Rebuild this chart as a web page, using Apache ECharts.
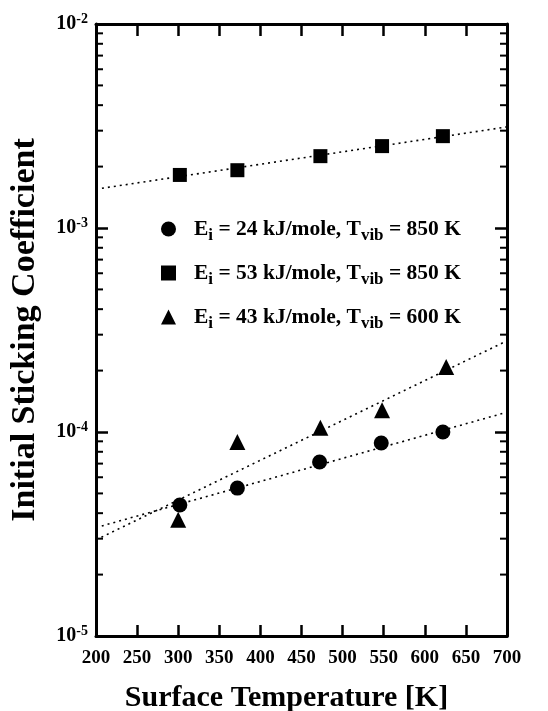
<!DOCTYPE html>
<html>
<head>
<meta charset="utf-8">
<script src="https://cdn.jsdelivr.net/npm/echarts@6/dist/echarts.min.js"></script>
<style>html,body{margin:0;padding:0;background:#fff;}#c{width:548px;height:711px;}</style>
</head>
<body>
<div id="c"></div>
<script>
// ---- data ----
var tempCircle = [302, 372, 472, 547, 622];
var sCircle = [4.39e-5, 5.31e-5, 7.13e-5, 8.83e-5, 1.0e-4];
var tempSquare = [302, 372, 473, 548, 622];
var sSquare = [1.82e-3, 1.92e-3, 2.25e-3, 2.52e-3, 2.82e-3];
var tempTriangle = [300, 372, 473, 548, 626];
var sTriangle = [3.71e-5, 8.93e-5, 1.05e-4, 1.28e-4, 2.08e-4];
// fitted (dotted) lines: endpoints at 200 K and 700 K
var fitT = [200, 700];
var fitCircle = [3.4e-5, 1.25e-4];
var fitSquare = [1.55e-3, 3.13e-3];
var fitTriangle = [2.96e-5, 2.8e-4];
// axis ticks
var xTicks = [200, 250, 300, 350, 400, 450, 500, 550, 600, 650, 700];
var yDecades = [1e-5, 1e-4, 1e-3, 1e-2];
var minorMult = [2, 3, 4, 5, 6, 7, 8, 9];
var legendNames = [
  'Ei = 24 kJ/mole, Tvib = 850 K',
  'Ei = 53 kJ/mole, Tvib = 850 K',
  'Ei = 43 kJ/mole, Tvib = 600 K'
];
var legendParts = [
  ['24', '850'],
  ['53', '850'],
  ['43', '600']
];

function pairs(xs, ys) { return xs.map(function (x, i) { return [x, ys[i]]; }); }
var minorVals = [];
for (var d = 0; d < yDecades.length - 1; d++) {
  for (var m = 0; m < minorMult.length; m++) minorVals.push([200, yDecades[d] * minorMult[m]]);
}

var FONT = 'Liberation Serif';
var chart = echarts.init(document.getElementById('c'), null, { renderer: 'canvas' });

var axisLine = { show: true, lineStyle: { color: '#000', width: 3 } };
var tickStyle = { color: '#000', width: 2.5 };

var option = {
  backgroundColor: '#fff',
  animation: false,
  grid: { left: 96, right: 41, top: 24, bottom: 75, containLabel: false, outerBoundsMode: 'none' },
  xAxis: [{
    type: 'value', min: xTicks[0], max: xTicks[xTicks.length - 1], interval: 50,
    position: 'bottom',
    axisLine: axisLine,
    axisTick: { show: true, inside: true, length: 11, lineStyle: tickStyle },
    splitLine: { show: false },
    axisLabel: { color: '#000', fontFamily: FONT, fontWeight: 'bold', fontSize: 19, margin: 13 },
    name: 'Surface Temperature [K]', nameLocation: 'middle', nameGap: 47,
    nameTextStyle: { color: '#000', fontFamily: FONT, fontWeight: 'bold', fontSize: 30, padding: [0, 30, 0, 0] }
  }, {
    type: 'value', min: xTicks[0], max: xTicks[xTicks.length - 1], interval: 50,
    position: 'top',
    axisLine: axisLine,
    axisTick: { show: true, inside: true, length: 12, lineStyle: tickStyle },
    splitLine: { show: false },
    axisLabel: { show: false }
  }],
  yAxis: [{
    type: 'log', logBase: 10, min: yDecades[0], max: yDecades[yDecades.length - 1], splitNumber: 3,
    position: 'left',
    axisLine: axisLine,
    axisTick: { show: true, inside: true, length: 12, lineStyle: tickStyle },
    splitLine: { show: false },
    minorTick: { show: false },
    axisLabel: {
      margin: 8,
      formatter: function (v) {
        var e = Math.round(Math.log(v) / Math.LN10);
        return '{n|10}{e|' + e + '}';
      },
      rich: {
        n: { color: '#000', fontFamily: FONT, fontWeight: 'bold', fontSize: 20 },
        e: { color: '#000', fontFamily: FONT, fontWeight: 'bold', fontSize: 14, padding: [0, 0, 10, 0] }
      }
    },
    name: 'Initial Sticking Coefficient', nameLocation: 'middle', nameGap: 54,
    nameTextStyle: { color: '#000', fontFamily: FONT, fontWeight: 'bold', fontSize: 34 }
  }, {
    type: 'log', logBase: 10, min: yDecades[0], max: yDecades[yDecades.length - 1], splitNumber: 3,
    position: 'right',
    axisLine: axisLine,
    axisTick: { show: true, inside: true, length: 12, lineStyle: tickStyle },
    splitLine: { show: false },
    axisLabel: { show: false }
  }],
  legend: {
    orient: 'vertical', left: 156, top: 209, itemWidth: 15, itemHeight: 15, itemGap: 14,
    selectedMode: false,
    data: [
      { name: legendNames[0], icon: 'circle' },
      { name: legendNames[1], icon: 'rect' },
      { name: legendNames[2], icon: 'triangle' }
    ],
    formatter: function (name) {
      var i = legendNames.indexOf(name);
      var p = legendParts[i];
      return '{m|E}{s|i}{m| = ' + p[0] + ' kJ/mole, T}{s|vib}{m| = ' + p[1] + ' K}';
    },
    textStyle: {
      padding: [0, 0, 0, 13],
      rich: {
        m: { color: '#000', fontFamily: FONT, fontWeight: 'bold', fontSize: 21.5, lineHeight: 28 },
        s: { color: '#000', fontFamily: FONT, fontWeight: 'bold', fontSize: 17, lineHeight: 28, padding: [13, 0, 0, 0] }
      }
    }
  },
  series: [
    { name: legendNames[0], type: 'scatter', data: pairs(tempCircle, sCircle), symbol: 'circle', symbolSize: 15,
      itemStyle: { color: '#000', opacity: 1 }, z: 5 },
    { name: legendNames[1], type: 'scatter', data: pairs(tempSquare, sSquare), symbol: 'rect', symbolSize: 14,
      itemStyle: { color: '#000', opacity: 1 }, z: 5 },
    { name: legendNames[2], type: 'scatter', data: pairs(tempTriangle, sTriangle), symbol: 'triangle', symbolSize: 16,
      itemStyle: { color: '#000', opacity: 1 }, z: 5 },
    { name: 'fitCircle', type: 'line', data: pairs(fitT, fitCircle), symbol: 'none',
      lineStyle: { color: '#000', width: 1.6, type: [2, 4] }, z: 3 },
    { name: 'fitSquare', type: 'line', data: pairs(fitT, fitSquare), symbol: 'none',
      lineStyle: { color: '#000', width: 1.6, type: [2, 4] }, z: 3 },
    { name: 'fitTriangle', type: 'line', data: pairs(fitT, fitTriangle), symbol: 'none',
      lineStyle: { color: '#000', width: 1.6, type: [2, 4] }, z: 3 },
    { name: 'minorTicks', type: 'custom', data: minorVals, silent: true, clip: false, z: 4,
      renderItem: function (params, api) {
        var v = api.value(1);
        var pl = api.coord([xTicks[0], v]);
        var pr = api.coord([xTicks[xTicks.length - 1], v]);
        return {
          type: 'group',
          children: [
            { type: 'line', shape: { x1: pl[0], y1: pl[1], x2: pl[0] + 7, y2: pl[1] }, style: { stroke: '#000', lineWidth: 2 } },
            { type: 'line', shape: { x1: pr[0] - 7, y1: pr[1], x2: pr[0], y2: pr[1] }, style: { stroke: '#000', lineWidth: 2 } }
          ]
        };
      }
    }
  ]
};
chart.setOption(option);
</script>
</body>
</html>
